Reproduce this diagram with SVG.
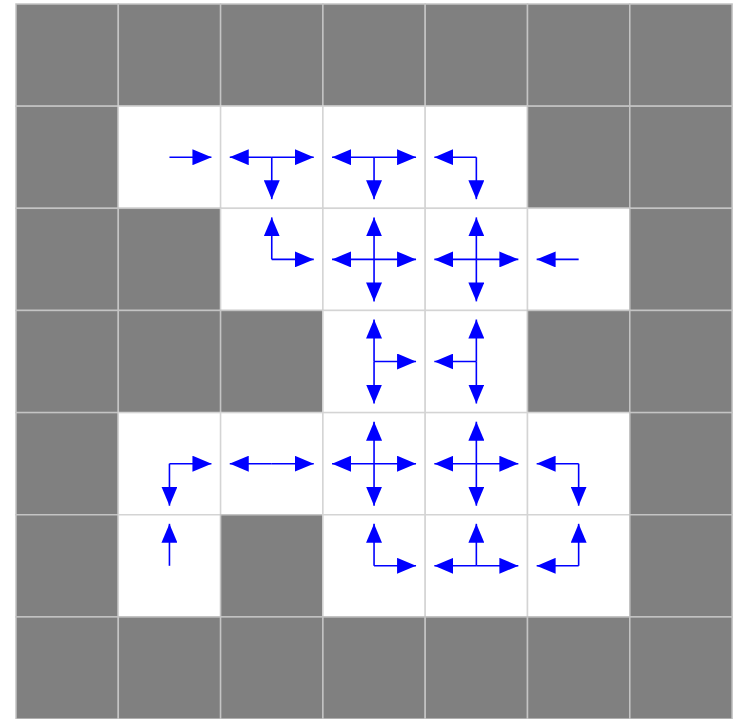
<svg xmlns="http://www.w3.org/2000/svg" width="733" height="719" viewBox="0 0 733 719">
<style>
.w{fill:#ffffff;stroke:#d4d4d4;stroke-width:1.5}
.g{fill:#808080;stroke:#c4c4c4;stroke-width:1.5}
.a{stroke:#0000ff;stroke-width:1.6;fill:none;marker-end:url(#ah)}
</style>
<defs>
<marker id="ah" viewBox="0 0 19 16" refX="19" refY="8" markerWidth="19" markerHeight="16" markerUnits="userSpaceOnUse" orient="auto">
<path d="M0,0 L19,8 L0,16 z" fill="#0000ff"/>
</marker>
</defs>
<rect x="0" y="0" width="733" height="719" fill="#ffffff"/>
<g id="cells">
<g id="r0"><rect class="g" x="16" y="4" width="102.3" height="102.15"/><rect class="g" x="118.3" y="4" width="102.3" height="102.15"/><rect class="g" x="220.6" y="4" width="102.3" height="102.15"/><rect class="g" x="322.9" y="4" width="102.3" height="102.15"/><rect class="g" x="425.2" y="4" width="102.3" height="102.15"/><rect class="g" x="527.5" y="4" width="102.3" height="102.15"/><rect class="g" x="629.8" y="4" width="102.3" height="102.15"/></g>
<g id="r1"><rect class="g" x="16" y="106.15" width="102.3" height="102.15"/><rect class="w" x="118.3" y="106.15" width="102.3" height="102.15"/><rect class="w" x="220.6" y="106.15" width="102.3" height="102.15"/><rect class="w" x="322.9" y="106.15" width="102.3" height="102.15"/><rect class="w" x="425.2" y="106.15" width="102.3" height="102.15"/><rect class="g" x="527.5" y="106.15" width="102.3" height="102.15"/><rect class="g" x="629.8" y="106.15" width="102.3" height="102.15"/></g>
<g id="r2"><rect class="g" x="16" y="208.3" width="102.3" height="102.15"/><rect class="g" x="118.3" y="208.3" width="102.3" height="102.15"/><rect class="w" x="220.6" y="208.3" width="102.3" height="102.15"/><rect class="w" x="322.9" y="208.3" width="102.3" height="102.15"/><rect class="w" x="425.2" y="208.3" width="102.3" height="102.15"/><rect class="w" x="527.5" y="208.3" width="102.3" height="102.15"/><rect class="g" x="629.8" y="208.3" width="102.3" height="102.15"/></g>
<g id="r3"><rect class="g" x="16" y="310.45" width="102.3" height="102.15"/><rect class="g" x="118.3" y="310.45" width="102.3" height="102.15"/><rect class="g" x="220.6" y="310.45" width="102.3" height="102.15"/><rect class="w" x="322.9" y="310.45" width="102.3" height="102.15"/><rect class="w" x="425.2" y="310.45" width="102.3" height="102.15"/><rect class="g" x="527.5" y="310.45" width="102.3" height="102.15"/><rect class="g" x="629.8" y="310.45" width="102.3" height="102.15"/></g>
<g id="r4"><rect class="g" x="16" y="412.6" width="102.3" height="102.15"/><rect class="w" x="118.3" y="412.6" width="102.3" height="102.15"/><rect class="w" x="220.6" y="412.6" width="102.3" height="102.15"/><rect class="w" x="322.9" y="412.6" width="102.3" height="102.15"/><rect class="w" x="425.2" y="412.6" width="102.3" height="102.15"/><rect class="w" x="527.5" y="412.6" width="102.3" height="102.15"/><rect class="g" x="629.8" y="412.6" width="102.3" height="102.15"/></g>
<g id="r5"><rect class="g" x="16" y="514.75" width="102.3" height="102.15"/><rect class="w" x="118.3" y="514.75" width="102.3" height="102.15"/><rect class="g" x="220.6" y="514.75" width="102.3" height="102.15"/><rect class="w" x="322.9" y="514.75" width="102.3" height="102.15"/><rect class="w" x="425.2" y="514.75" width="102.3" height="102.15"/><rect class="w" x="527.5" y="514.75" width="102.3" height="102.15"/><rect class="g" x="629.8" y="514.75" width="102.3" height="102.15"/></g>
<g id="r6"><rect class="g" x="16" y="616.9" width="102.3" height="102.15"/><rect class="g" x="118.3" y="616.9" width="102.3" height="102.15"/><rect class="g" x="220.6" y="616.9" width="102.3" height="102.15"/><rect class="g" x="322.9" y="616.9" width="102.3" height="102.15"/><rect class="g" x="425.2" y="616.9" width="102.3" height="102.15"/><rect class="g" x="527.5" y="616.9" width="102.3" height="102.15"/><rect class="g" x="629.8" y="616.9" width="102.3" height="102.15"/></g>
</g>
<g id="arrows">
<g id="c1-1"><line class="a" x1="169.45" y1="157.2" x2="211.45" y2="157.2"/></g>
<g id="c1-2"><line class="a" x1="271.75" y1="157.2" x2="229.75" y2="157.2"/><line class="a" x1="271.75" y1="157.2" x2="313.75" y2="157.2"/><line class="a" x1="271.75" y1="157.2" x2="271.75" y2="199.2"/></g>
<g id="c1-3"><line class="a" x1="374.05" y1="157.2" x2="332.05" y2="157.2"/><line class="a" x1="374.05" y1="157.2" x2="416.05" y2="157.2"/><line class="a" x1="374.05" y1="157.2" x2="374.05" y2="199.2"/></g>
<g id="c1-4"><line class="a" x1="476.35" y1="157.2" x2="434.35" y2="157.2"/><line class="a" x1="476.35" y1="157.2" x2="476.35" y2="199.2"/></g>
<g id="c2-2"><line class="a" x1="271.75" y1="259.4" x2="271.75" y2="217.4"/><line class="a" x1="271.75" y1="259.4" x2="313.75" y2="259.4"/></g>
<g id="c2-3"><line class="a" x1="374.05" y1="259.4" x2="374.05" y2="217.4"/><line class="a" x1="374.05" y1="259.4" x2="374.05" y2="301.4"/><line class="a" x1="374.05" y1="259.4" x2="332.05" y2="259.4"/><line class="a" x1="374.05" y1="259.4" x2="416.05" y2="259.4"/></g>
<g id="c2-4"><line class="a" x1="476.35" y1="259.4" x2="476.35" y2="217.4"/><line class="a" x1="476.35" y1="259.4" x2="476.35" y2="301.4"/><line class="a" x1="476.35" y1="259.4" x2="434.35" y2="259.4"/><line class="a" x1="476.35" y1="259.4" x2="518.35" y2="259.4"/></g>
<g id="c2-5"><line class="a" x1="578.65" y1="259.4" x2="536.65" y2="259.4"/></g>
<g id="c3-3"><line class="a" x1="374.05" y1="361.5" x2="374.05" y2="319.5"/><line class="a" x1="374.05" y1="361.5" x2="374.05" y2="403.5"/><line class="a" x1="374.05" y1="361.5" x2="416.05" y2="361.5"/></g>
<g id="c3-4"><line class="a" x1="476.35" y1="361.5" x2="476.35" y2="319.5"/><line class="a" x1="476.35" y1="361.5" x2="476.35" y2="403.5"/><line class="a" x1="476.35" y1="361.5" x2="434.35" y2="361.5"/></g>
<g id="c4-1"><line class="a" x1="169.45" y1="463.7" x2="211.45" y2="463.7"/><line class="a" x1="169.45" y1="463.7" x2="169.45" y2="505.7"/></g>
<g id="c4-2"><line class="a" x1="271.75" y1="463.7" x2="229.75" y2="463.7"/><line class="a" x1="271.75" y1="463.7" x2="313.75" y2="463.7"/></g>
<g id="c4-3"><line class="a" x1="374.05" y1="463.7" x2="374.05" y2="421.7"/><line class="a" x1="374.05" y1="463.7" x2="374.05" y2="505.7"/><line class="a" x1="374.05" y1="463.7" x2="332.05" y2="463.7"/><line class="a" x1="374.05" y1="463.7" x2="416.05" y2="463.7"/></g>
<g id="c4-4"><line class="a" x1="476.35" y1="463.7" x2="476.35" y2="421.7"/><line class="a" x1="476.35" y1="463.7" x2="476.35" y2="505.7"/><line class="a" x1="476.35" y1="463.7" x2="434.35" y2="463.7"/><line class="a" x1="476.35" y1="463.7" x2="518.35" y2="463.7"/></g>
<g id="c4-5"><line class="a" x1="578.65" y1="463.7" x2="536.65" y2="463.7"/><line class="a" x1="578.65" y1="463.7" x2="578.65" y2="505.7"/></g>
<g id="c5-1"><line class="a" x1="169.45" y1="565.8" x2="169.45" y2="523.8"/></g>
<g id="c5-3"><line class="a" x1="374.05" y1="565.8" x2="374.05" y2="523.8"/><line class="a" x1="374.05" y1="565.8" x2="416.05" y2="565.8"/></g>
<g id="c5-4"><line class="a" x1="476.35" y1="565.8" x2="434.35" y2="565.8"/><line class="a" x1="476.35" y1="565.8" x2="476.35" y2="523.8"/><line class="a" x1="476.35" y1="565.8" x2="518.35" y2="565.8"/></g>
<g id="c5-5"><line class="a" x1="578.65" y1="565.8" x2="536.65" y2="565.8"/><line class="a" x1="578.65" y1="565.8" x2="578.65" y2="523.8"/></g>
</g>
</svg>
